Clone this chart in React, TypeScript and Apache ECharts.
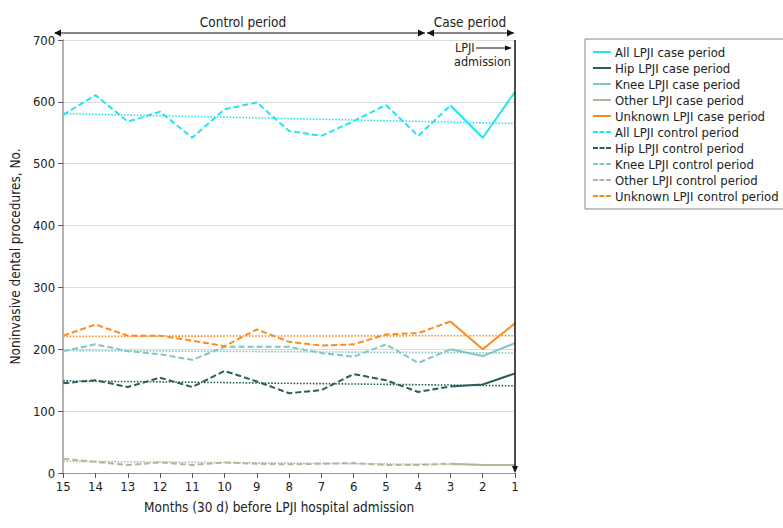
import React, { useEffect, useRef } from "react";
import * as echarts from "echarts";

const months = ["15", "14", "13", "12", "11", "10", "9", "8", "7", "6", "5", "4", "3", "2", "1"];

// control period values (months 15..3), case period values (months 3..1)
const allControl = [579, 611, 568, 584, 542, 588, 599, 553, 545, 569, 595, 545, 594];
const allCase = [594, 542, 616];
const hipControl = [145, 150, 139, 154, 139, 165, 148, 129, 134, 160, 150, 131, 140];
const hipCase = [140, 143, 161];
const kneeControl = [197, 208, 197, 192, 183, 204, 204, 204, 194, 188, 208, 178, 200];
const kneeCase = [200, 189, 210];
const otherControl = [23, 18, 13, 17, 13, 17, 15, 14, 15, 16, 13, 13, 15];
const otherCase = [15, 13, 13];
const unknownControl = [222, 240, 222, 222, 214, 205, 232, 212, 206, 208, 224, 226, 245];
const unknownCase = [245, 200, 242];

// trend line endpoints [at month 15, at month 1]
const allTrend = [581, 565];
const hipTrend = [149, 141];
const kneeTrend = [198, 194];
const otherTrend = [19, 13];
const unknownTrend = [221, 222];

const groups = [
  { key: "All", color: "#22e6ef", control: allControl, cases: allCase, trend: allTrend },
  { key: "Hip", color: "#2b5e5b", control: hipControl, cases: hipCase, trend: hipTrend },
  { key: "Knee", color: "#7fc7c4", control: kneeControl, cases: kneeCase, trend: kneeTrend },
  { key: "Other", color: "#b6b49a", control: otherControl, cases: otherCase, trend: otherTrend },
  { key: "Unknown", color: "#ff8a1c", control: unknownControl, cases: unknownCase, trend: unknownTrend },
];

const FONT = "'DejaVu Sans Condensed', 'Liberation Sans Narrow', Roboto, sans-serif";
const SOLID_ICON = "path://M0,0H18V2H0Z";
const DASH_ICON = "path://M0,0H5V2H0Z M6.5,0H11.5V2H6.5Z M13,0H18V2H13Z";

export default function App() {
  const ref = useRef<HTMLDivElement>(null);
  useEffect(() => {
    if (!ref.current) return;
    const chart = echarts.init(ref.current, undefined, { renderer: "svg" });
    const n = months.length;
    const series: any[] = [];
    const legendData: any[] = [];
    groups.forEach((g) => {
      const caseData = months.map((m, i) => (i >= n - 3 ? g.cases[i - (n - 3)] : null));
      const name = `${g.key} LPJI case period`;
      legendData.push({ name, icon: SOLID_ICON, itemStyle: { color: g.color } });
      series.push({
        name,
        type: "line",
        data: caseData,
        symbol: "none",
        z: 4,
        lineStyle: { color: g.color, width: 2, type: "solid" },
        itemStyle: { color: g.color },
      });
    });
    groups.forEach((g) => {
      const ctrlData = months.map((m, i) => (i < g.control.length ? g.control[i] : null));
      const name = `${g.key} LPJI control period`;
      legendData.push({ name, icon: DASH_ICON, itemStyle: { color: g.color } });
      series.push({
        name,
        type: "line",
        data: ctrlData,
        symbol: "none",
        z: 3,
        lineStyle: { color: g.color, width: 2, type: [6, 3] },
        itemStyle: { color: g.color },
      });
    });
    groups.forEach((g) => {
      series.push({
        name: `${g.key} trend`,
        type: "line",
        data: [
          [months[0], g.trend[0]],
          [months[n - 1], g.trend[1]],
        ],
        symbol: "none",
        z: 2,
        silent: true,
        lineStyle: { color: g.color, width: 1.6, type: [1.6, 1.6] },
      });
    });

    const L = 53, R = 515, T = 40, B = 473;
    const arrowY = 33;
    const split = 426;
    const ah = (x: number, y: number, dir: number) => ({
      type: "polygon",
      shape: { points: [[x, y], [x - dir * 7, y - 3.5], [x - dir * 7, y + 3.5]] },
      style: { fill: "#111" },
    });

    chart.setOption({
      animation: false,
      textStyle: { fontFamily: FONT },
      grid: { left: L, right: 783 - R, top: T, bottom: 528 - B, containLabel: false },
      xAxis: {
        type: "category",
        data: months,
        boundaryGap: false,
        axisLine: { lineStyle: { color: "#999", width: 1 } },
        axisTick: { show: true, alignWithLabel: true, length: 5, lineStyle: { color: "#555" } },
        axisLabel: { color: "#222", fontSize: 13, fontFamily: FONT, margin: 7 },
        name: "Months (30 d) before LPJI hospital admission",
        nameLocation: "middle",
        nameGap: 27,
        nameTextStyle: { color: "#222", fontSize: 13.5, fontFamily: FONT, padding: [0, 20, 0, 0] },
        splitLine: { show: false },
      },
      yAxis: {
        type: "value",
        min: 0,
        max: 700,
        interval: 100,
        axisLine: { show: true, lineStyle: { color: "#999", width: 1.5 } },
        axisTick: { show: true, length: 5, lineStyle: { color: "#555" } },
        axisLabel: { color: "#222", fontSize: 13, fontFamily: FONT, margin: 8 },
        splitLine: { show: true, lineStyle: { color: "#dcdcdc", width: 1 } },
        name: "Noninvasive dental procedures, No.",
        nameLocation: "middle",
        nameGap: 34,
        nameTextStyle: { color: "#222", fontSize: 13.5, fontFamily: FONT },
      },
      legend: {
        data: legendData,
        orient: "vertical",
        left: 585,
        top: 39,
        padding: [6, 8, 6, 8],
        itemGap: 2,
        itemWidth: 18,
        itemHeight: 2,
        borderColor: "#888",
        borderWidth: 1,
        textStyle: { color: "#222", fontSize: 13, fontFamily: FONT, padding: [0, 0, 0, -1], lineHeight: 14 },
        selectedMode: false,
      },
      series,
      graphic: [
        { type: "line", shape: { x1: R, y1: T, x2: R, y2: B - 2 }, style: { stroke: "#111", lineWidth: 1.5 }, z: 10 },
        { type: "polygon", shape: { points: [[R, B], [R - 3, B - 7], [R + 3, B - 7]] }, style: { fill: "#111" }, z: 10 },
        { type: "line", shape: { x1: L + 2, y1: arrowY, x2: split - 1, y2: arrowY }, style: { stroke: "#111", lineWidth: 1.2 } },
        ah(L + 1, arrowY, -1),
        ah(split - 1, arrowY, 1),
        { type: "line", shape: { x1: split + 1, y1: arrowY, x2: R - 1, y2: arrowY }, style: { stroke: "#111", lineWidth: 1.2 } },
        ah(split + 1, arrowY, -1),
        ah(R - 1, arrowY, 1),
        { type: "text", x: 243, y: 22, style: { text: "Control period", fontSize: 13.5, fontFamily: FONT, fill: "#222", align: "center", verticalAlign: "middle" } },
        { type: "text", x: 470, y: 22, style: { text: "Case period", fontSize: 13.5, fontFamily: FONT, fill: "#222", align: "center", verticalAlign: "middle" } },
        { type: "text", x: 455, y: 47, style: { text: "LPJI", fontSize: 12.5, fontFamily: FONT, fill: "#222", align: "left", verticalAlign: "middle" } },
        { type: "line", shape: { x1: 476, y1: 48, x2: 507, y2: 48 }, style: { stroke: "#111", lineWidth: 1 } },
        { type: "polygon", shape: { points: [[512, 48], [505, 45.5], [505, 50.5]] }, style: { fill: "#111" } },
        { type: "text", x: 511, y: 61, style: { text: "admission", fontSize: 12.5, fontFamily: FONT, fill: "#222", align: "right", verticalAlign: "middle" } },
      ],
    });
    return () => chart.dispose();
  }, []);
  return <div ref={ref} style={{ position: "absolute", left: 0, top: 0, width: 783, height: 528 }} />;
}
